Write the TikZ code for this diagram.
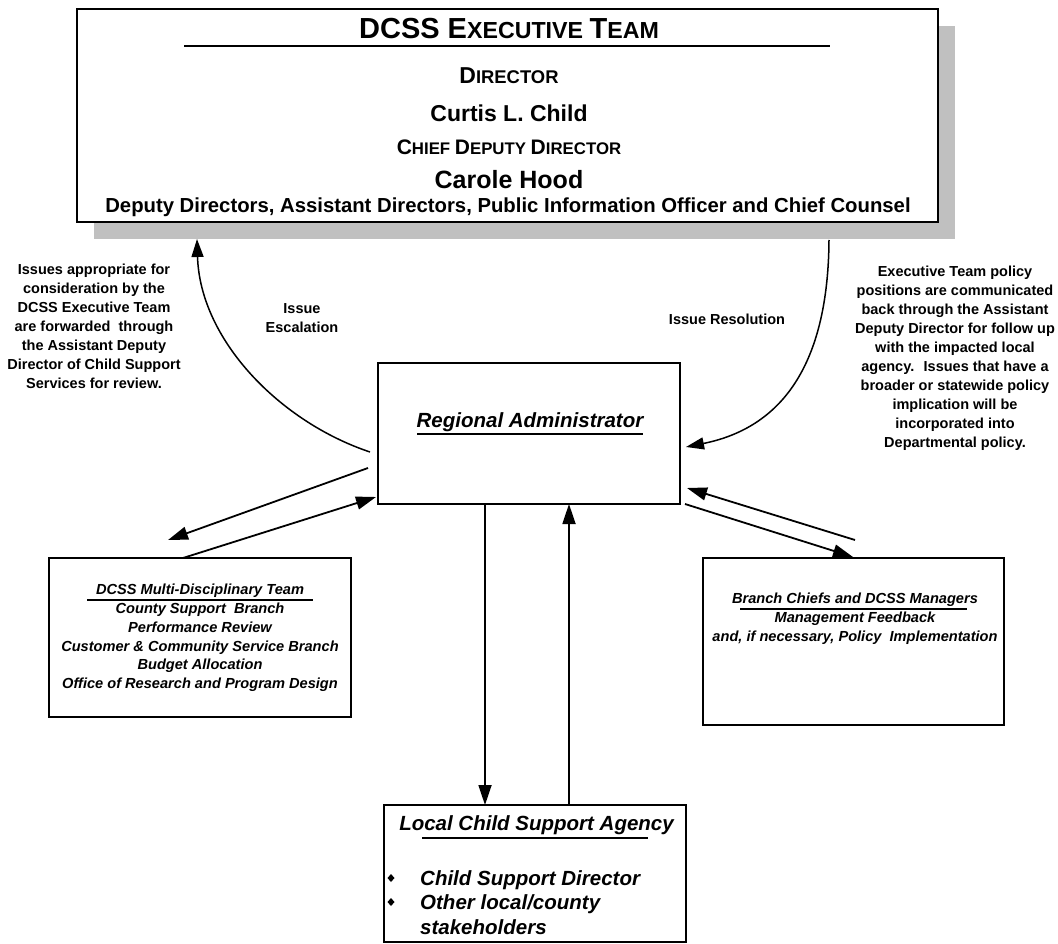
\documentclass[tikz,border=0pt]{standalone}
\usepackage{fontspec}
\setmainfont{Liberation Sans}
\usetikzlibrary{arrows.meta,calc}
\definecolor{shadowgray}{RGB}{192,192,192}
\newcommand\fsz[1]{\fontsize{#1}{#1}\selectfont}
\begin{document}
\begin{tikzpicture}[x=1pt,y=-1pt,
  box/.style={draw=black, line width=1.2pt, fill=white, inner sep=0pt},
  txt/.style={font=\bfseries, inner sep=0pt, align=center},
  itxt/.style={font=\bfseries\itshape, inner sep=0pt, align=center},
  conn/.style={line width=1.8pt, -{Triangle[length=20pt,width=13pt]}},
  arc/.style={line width=1.5pt, -{Triangle[length=18pt,width=12pt]}},
  uline/.style={line width=1.2pt}]
\useasboundingbox (0,0) rectangle (1058,944);
% executive team box with shadow
\fill[shadowgray] (94,26) rectangle (955,239);
\node[box, minimum width=861pt, minimum height=213pt] (exec) at (507.5,115.5) {};
\node[txt, anchor=base] (t1) at (509,39) {\fsz{29}DCSS E\fsz{23.2}XECUTIVE \fsz{29}T\fsz{23.2}EAM};
\draw[uline] (184,46) -- (830,46);
\node[txt, anchor=base] (t2) at (509,84) {\fsz{23}D\fsz{18.4}IRECTOR};
\node[txt, anchor=base] (t3) at (509,122) {\fsz{23}Curtis L. Child};
\node[txt, anchor=base] (t4) at (509,155) {\fsz{21}C\fsz{16.8}HIEF \fsz{21}D\fsz{16.8}EPUTY \fsz{21}D\fsz{16.8}IRECTOR};
\node[txt, anchor=base] (t5) at (509,189) {\fsz{25}Carole Hood};
\node[txt, anchor=base] (t6) at (508,213) {\fsz{20.3}Deputy Directors, Assistant Directors, Public Information Officer and Chief Counsel};
% annotations
\node[txt, font=\bfseries\fontsize{14.5}{19}\selectfont] (leftnote) at (94,326) {Issues appropriate for\\consideration by the\\DCSS Executive Team\\are forwarded~ through\\the Assistant Deputy\\Director of Child Support\\Services for review.};
\node[txt, font=\bfseries\fontsize{14.5}{19}\selectfont] (esc) at (302,318.5) {Issue\\Escalation};
\node[txt, font=\bfseries\fontsize{14.5}{19}\selectfont] (res) at (727,319) {Issue Resolution};
\node[txt, font=\bfseries\fontsize{14.5}{19}\selectfont] (rightnote) at (955,358.5) {Executive Team policy\\positions are communicated\\back through the Assistant\\Deputy Director for follow up\\with the impacted local\\agency.~ Issues that have a\\broader or statewide policy\\implication will be\\incorporated into\\Departmental policy.};
% regional administrator
\node[box, minimum width=302pt, minimum height=141pt] (ra) at (529,433.5) {};
\node[itxt, anchor=base] (ratext) at (530,427) {\fsz{20.5}Regional Administrator};
\draw[uline] (417,434) -- (643,434);
% multi-disciplinary team
\node[box, minimum width=302pt, minimum height=159pt] (mdt) at (200,637.5) {};
\node[itxt, font=\bfseries\itshape\fontsize{14.6}{18.8}\selectfont] (mdttext) at (200,638) {DCSS Multi-Disciplinary Team\\County Support~ Branch\\Performance Review\\Customer \& Community Service Branch\\Budget Allocation\\Office of Research and Program Design};
\draw[uline] (87,600) -- (313,600);
% branch chiefs
\node[box, minimum width=301pt, minimum height=167pt] (bc) at (853.5,641.5) {};
\node[itxt, font=\bfseries\itshape\fontsize{14.6}{18.8}\selectfont] (bctext) at (855,618.5) {Branch Chiefs and DCSS Managers\\Management Feedback\\and, if necessary, Policy~ Implementation};
\draw[uline] (740,609) -- (967,609);
% local child support agency
\node[box, minimum width=302pt, minimum height=137pt] (lcsa) at (535,873.5) {};
\node[itxt, anchor=base] (lcsatitle) at (536.5,830) {\fsz{20.5}Local Child Support Agency};
\draw[uline] (422,838) -- (648,838);
\node[itxt, anchor=base west] (li1) at (420,885) {\fsz{20.5}Child Support Director};
\node[itxt, anchor=base west] (li2) at (420,909) {\fsz{20.5}Other local/county};
\node[itxt, anchor=base west] (li3) at (420,934) {\fsz{20.5}stakeholders};
\fill (391,874) -- (394.5,878) -- (391,882) -- (387.5,878) -- cycle;
\fill (391,898) -- (394.5,902) -- (391,906) -- (387.5,902) -- cycle;
% connector end points
\coordinate (escS) at (370,452);
\coordinate (escE) at (197,239);
\coordinate (resS) at (829,240);
\coordinate (resE) at (686,447);
\coordinate (a1s) at (368,468);
\coordinate (a1e) at (168,540);
\coordinate (a2s) at (183,558);
\coordinate (a2e) at (376,497);
\coordinate (a3s) at (685,504);
\coordinate (a3e) at (853,557);
\coordinate (a4s) at (855,540);
\coordinate (a4e) at (687,488);
\coordinate (a5s) at (485,504);
\coordinate (a5e) at (485,805);
\coordinate (a6s) at (569,805);
\coordinate (a6e) at (569,504);
% connectors
\draw[arc] (escS) .. controls (280,422) and (200,340) .. (escE);
\draw[arc] (resS) .. controls (828,380) and (770,430) .. (resE);
\draw[conn] (a1s) -- (a1e);
\draw[conn] (a2s) -- (a2e);
\draw[conn] (a3s) -- (a3e);
\draw[conn] (a4s) -- (a4e);
\draw[conn] (a5s) -- (a5e);
\draw[conn] (a6s) -- (a6e);
\end{tikzpicture}
\end{document}
